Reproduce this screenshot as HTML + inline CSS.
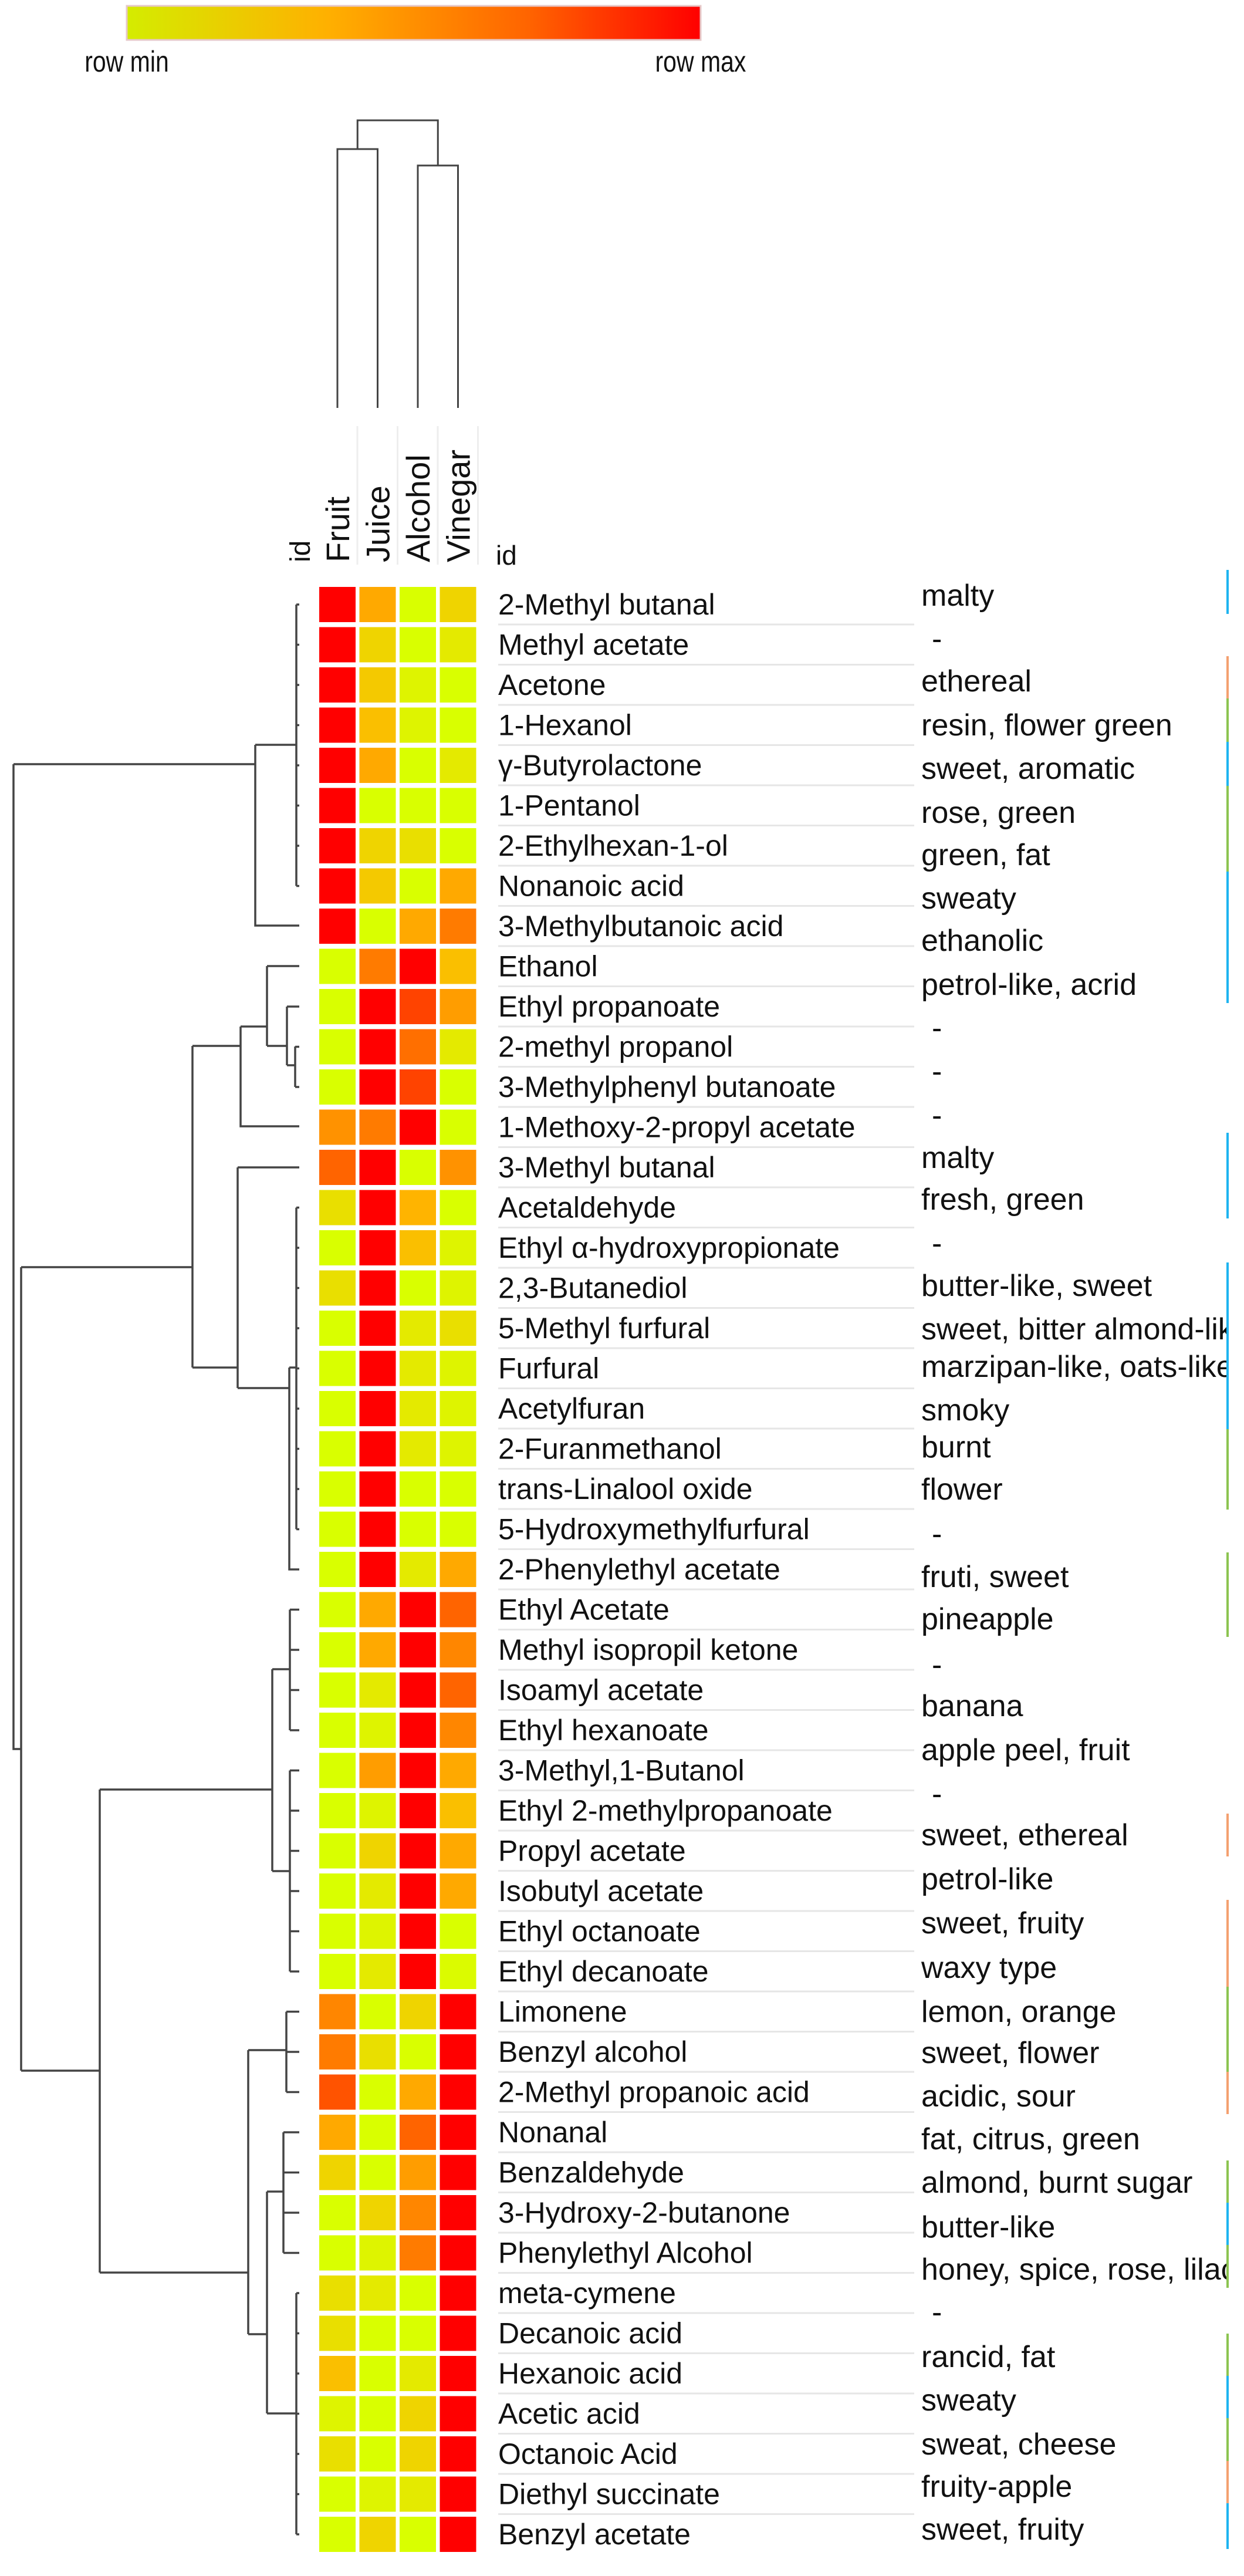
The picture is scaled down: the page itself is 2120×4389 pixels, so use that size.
<!DOCTYPE html>
<html><head><meta charset="utf-8"><style>
html,body{margin:0;padding:0;background:#fff;}
svg{display:block;}
text{font-family:"Liberation Sans",Arial,sans-serif;fill:#111;}
</style></head><body>
<svg id="chart" width="2120" height="4389" viewBox="0 0 2120 4389" xmlns="http://www.w3.org/2000/svg">
<defs>
<linearGradient id="lg" x1="0" x2="1" y1="0" y2="0">
<stop offset="0" stop-color="#d4ec00"/><stop offset="0.35" stop-color="#ffb000"/><stop offset="0.7" stop-color="#ff6400"/><stop offset="1" stop-color="#ff0000"/>
</linearGradient>
<clipPath id="descClip"><rect x="1560" y="900" width="532" height="3489"/></clipPath>
</defs>
<g>
<rect x="216" y="10" width="978" height="58" fill="url(#lg)" stroke="#e6c8c8" stroke-width="3"/>
<text x="216" y="122" font-size="50" text-anchor="middle" transform="translate(216 0) scale(0.82 1) translate(-216 0)" fill="#333">row min</text>
<text x="1194" y="122" font-size="50" text-anchor="middle" transform="translate(1194 0) scale(0.82 1) translate(-1194 0)" fill="#333">row max</text>
</g>
<g id="coldendro" stroke="#444" stroke-width="3" fill="none"></g>
<g id="colgrid"></g>
<g id="collabels"></g>
<text x="0" y="0" font-size="48" transform="translate(528 958) rotate(-90)">id</text>
<text x="845" y="962" font-size="46">id</text>
<g id="rowdendro" stroke="#444" stroke-width="3.5" fill="none"></g>
<g id="cells"></g>
<g id="rowlabels"></g>
<g id="desc" clip-path="url(#descClip)"></g>
<g id="marks"></g>
</svg>
<script>
const columns = ["Fruit","Juice","Alcohol","Vinegar"];
const compounds = ["2-Methyl butanal","Methyl acetate","Acetone","1-Hexanol","γ-Butyrolactone","1-Pentanol","2-Ethylhexan-1-ol","Nonanoic acid","3-Methylbutanoic acid","Ethanol","Ethyl propanoate","2-methyl propanol"," 3-Methylphenyl butanoate","1-Methoxy-2-propyl acetate","3-Methyl butanal","Acetaldehyde","Ethyl α-hydroxypropionate","2,3-Butanediol","5-Methyl furfural","Furfural","Acetylfuran","2-Furanmethanol","trans-Linalool oxide","5-Hydroxymethylfurfural","2-Phenylethyl acetate","Ethyl Acetate","Methyl isopropil ketone","Isoamyl acetate","Ethyl hexanoate","3-Methyl,1-Butanol","Ethyl 2-methylpropanoate","Propyl acetate","Isobutyl acetate","Ethyl octanoate","Ethyl decanoate","Limonene","Benzyl alcohol","2-Methyl propanoic acid","Nonanal","Benzaldehyde","3-Hydroxy-2-butanone","Phenylethyl Alcohol","meta-cymene","Decanoic acid","Hexanoic acid","Acetic acid","Octanoic Acid","Diethyl succinate","Benzyl acetate"];
const fruitValues   = [1,1,1,1,1,1,1,1,1, 0,0,0,0,0.5, 0.7,0.15,0,0.15,0,0,0,0,0,0,0, 0,0,0,0,0,0,0,0,0,0, 0.55,0.6,0.75,0.4,0.2,0,0,0.15,0.15,0.3,0.05,0.15,0,0];
const juiceValues   = [0.4,0.2,0.25,0.3,0.4,0,0.2,0.25,0, 0.6,1,1,1,0.6, 1,1,1,1,1,1,1,1,1,1,1, 0.4,0.4,0.1,0.05,0.45,0.05,0.2,0.1,0.05,0.1, 0,0.15,0,0,0,0.2,0.05,0.1,0,0,0,0,0.05,0.2];
const alcoholValues = [0,0,0.05,0.05,0,0,0.15,0,0.4, 1,0.8,0.65,0.8,1, 0,0.35,0.3,0,0.1,0.1,0.1,0.1,0,0,0.1, 1,1,1,1,1,1,1,1,1,1, 0.2,0,0.4,0.7,0.45,0.55,0.6,0,0,0.1,0.2,0.2,0.1,0];
const vinegarValues = [0.2,0.1,0,0,0.1,0,0,0.4,0.6, 0.3,0.45,0.1,0,0, 0.5,0,0.05,0.05,0.15,0.05,0.05,0.05,0,0,0.4, 0.7,0.55,0.7,0.55,0.4,0.3,0.4,0.4,0,0.02, 1,1,1,1,1,1,1,1,1,1,1,1,1,1];
const descriptors = ["malty","-","ethereal","resin, flower green","sweet, aromatic","rose, green","green, fat","sweaty","ethanolic","petrol-like, acrid","-","-","-","malty","fresh, green","-","butter-like, sweet","sweet, bitter almond-like","marzipan-like, oats-like","smoky","burnt","flower","-","fruti, sweet","pineapple","-","banana","apple peel, fruit","-","sweet, ethereal","petrol-like","sweet, fruity","waxy type","lemon, orange","sweet, flower","acidic, sour","fat, citrus, green","almond, burnt sugar","butter-like","honey, spice, rose, lilac","-","rancid, fat","sweaty","sweat, cheese","fruity-apple","sweet, fruity"];
const descY = [1015,1089,1161,1236,1310,1385,1457,1531,1603,1678,1752,1826,1901,1973,2044,2119,2191,2265,2329,2403,2466,2538,2614,2687,2759,2837,2907,2982,3057,3127,3202,3277,3353,3428,3498,3572,3645,3719,3795,3867,3940,4016,4090,4165,4237,4310];

const NS="http://www.w3.org/2000/svg";
const X0=544, PX=68.5, CW=62, Y0=1000, PY=68.5, CH=60;
function colX(j){return X0+j*PX;}
function rowY(i){return Y0+i*PY;}
function rc(i){return rowY(i)+CH/2;}
const stops=[[0,[217,255,0]],[0.35,[255,180,0]],[0.7,[255,100,0]],[1,[255,0,0]]];
function color(v){
  for(let k=1;k<stops.length;k++){
    if(v<=stops[k][0]){
      const a=stops[k-1],b=stops[k],t=(v-a[0])/(b[0]-a[0]);
      const c=a[1].map((x,m)=>Math.round(x+(b[1][m]-x)*t));
      return `rgb(${c[0]},${c[1]},${c[2]})`;
    }
  }
  return "rgb(255,0,0)";
}
function mk(tag,attrs,parent){const e=document.createElementNS(NS,tag);for(const k in attrs)e.setAttribute(k,attrs[k]);parent.appendChild(e);return e;}

const cellsG=document.getElementById('cells');
const series=[fruitValues,juiceValues,alcoholValues,vinegarValues];
const slug=s=>s.toLowerCase().replace(/[^a-z0-9]+/g,'-').replace(/^-|-$/g,'');
compounds.forEach((c,i)=>{
  series.forEach((vals,j)=>{
    const r=mk('rect',{x:colX(j),y:rowY(i),width:CW,height:CH,fill:color(vals[i])},cellsG);
    
    
  });
});

const rl=document.getElementById('rowlabels');
compounds.forEach((c,i)=>{
  const t=mk('text',{x:849,y:rc(i)+17,'font-size':50,'xml:space':'preserve'},rl);
  
  
  t.textContent=c;
  if(i<compounds.length-1){
    const l=mk('line',{x1:849,x2:1558,y1:rowY(i)+CH+4,y2:rowY(i)+CH+4,stroke:'#e6e6e6','stroke-width':3},rl);
    
    
  }
});

const dg=document.getElementById('desc');
descriptors.forEach((d,i)=>{
  const t=mk('text',{x:d==='-'?1588:1570,y:descY[i]+17,'font-size':52},dg);
  
  
  t.textContent=d;
});

const cl=document.getElementById('collabels');
const cg=document.getElementById('colgrid');
columns.forEach((c,j)=>{
  const cx=colX(j)+CW/2;
  const t=mk('text',{x:0,y:0,'font-size':56,transform:`translate(${cx+20} 958) rotate(-90)`},cl);
  
  
  t.textContent=c;
  const gx=colX(j)+CW+3;
  const g=mk('line',{x1:gx,x2:gx,y1:726,y2:962,stroke:'#eeeeee','stroke-width':3},cg);
  
  
});

const cd=document.getElementById('coldendro');
const cc=j=>colX(j)+CW/2;
const cdPath=`M${cc(0)} 695 V254 H${cc(1)} V695 M${cc(2)} 695 V282 H${cc(3)} V695 M${(cc(0)+cc(1))/2} 254 V205 H${(cc(2)+cc(3))/2} V282`;
const cp=mk('path',{d:cdPath},cd);



const rd=document.getElementById('rowdendro');
let d='';
d+=`M23 1302 V2980 H36 M36 2159 V3528 M36 2159 H328 M36 3528 H170 M23 1302 H435`;
d+=`M435 1269 V1577 H510 M435 1269 H505`;
d+=`M328 1782 V2330 M328 1782 H410 M410 1749 V1919 H510 M410 1749 H455 M455 1646 V1782 M455 1646 H510 M455 1782 H489 M489 1715 V1815 M489 1715 H510 M489 1815 H503 M503 1783 V1852`;
d+=`M328 2330 H405 M405 1989 V2365 M405 1989 H510 M405 2365 H493 M493 2330 V2674 H510 M493 2330 H505`;
d+=`M170 3049 V3872 M170 3049 H464 M464 2844 V3188 M464 2844 H494 M464 3188 H494`;
d+=`M170 3872 H423 M423 3493 V3977 M423 3493 H488 M423 3977 H455 M455 3734 V4112 M455 3734 H483 M455 4112 H505`;
const subs=[[505,0,7],[503,11,12],[505,15,23],[494,25,28],[494,29,34],[488,35,37],[483,38,41],[505,42,48]];
subs.forEach(s=>{
  d+=`M${s[0]} ${rc(s[1])} V${rc(s[2])}`;
  for(let i=s[1];i<=s[2];i++) d+=`M${s[0]} ${rc(i)} H510`;
});
const rp=mk('path',{d:d},rd);



const mg=document.getElementById('marks');
const markSegs=[[971,1046,'#1eb4f0'],[1118,1190,'#f4a070'],[1190,1264,'#8cc450'],[1264,1339,'#1eb4f0'],[1339,1485,'#8cc450'],[1485,1709,'#1eb4f0'],[1930,2076,'#1eb4f0'],[2151,2435,'#1eb4f0'],[2435,2572,'#8cc450'],[2645,2789,'#8cc450'],[3090,3163,'#f4a070'],[3237,3385,'#f4a070'],[3385,3530,'#8cc450'],[3530,3602,'#f4a070'],[3681,3753,'#8cc450'],[3753,3825,'#1eb4f0'],[3825,3898,'#8cc450'],[3976,4048,'#8cc450'],[4048,4120,'#1eb4f0'],[4120,4193,'#8cc450'],[4193,4265,'#f4a070'],[4265,4343,'#1eb4f0']];
markSegs.forEach(s=>{
  const r=mk('rect',{x:2090,y:s[0],width:4,height:s[1]-s[0],fill:s[2]},mg);
  
  
});
</script>
</body></html>
